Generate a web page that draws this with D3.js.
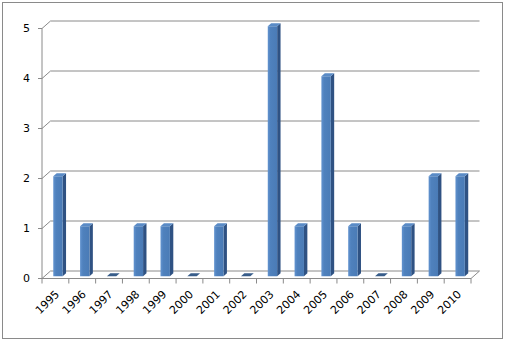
<!DOCTYPE html>
<html lang="en">
  <head>
    <meta charset="UTF-8" />
    <title>Counts per year</title>
    <style>
      body { margin: 0; background: #fff; }
      svg text { font-family: 'DejaVu Sans', Verdana, sans-serif; font-size: 11px; fill: #000; }
    </style>
  </head>
  <body>
    <div id="chart"></div>
    <script src="https://d3js.org/d3.v7.min.js"></script>
    <script>
      const years = ['1995', '1996', '1997', '1998', '1999', '2000', '2001', '2002',
        '2003', '2004', '2005', '2006', '2007', '2008', '2009', '2010'];
      const counts = [2, 1, 0, 1, 1, 0, 1, 0, 5, 1, 4, 1, 0, 1, 2, 2];
      const yTicks = [0, 1, 2, 3, 4, 5];

      const W = 505, H = 342;
      // depth offset of the 3d box
      const DX = 8.5, DY = -7.5;
      const gridColor = '#8a8a8a';

      const svg = d3.select('#chart').append('svg')
        .attr('width', W).attr('height', H);

      // front face shading
      const grad = svg.append('defs').append('linearGradient').attr('id', 'front');
      grad.append('stop').attr('offset', '0%').attr('stop-color', '#6293cf');
      grad.append('stop').attr('offset', '30%').attr('stop-color', '#4f81bd');
      grad.append('stop').attr('offset', '100%').attr('stop-color', '#4a7bb6');

      // outer frame
      svg.append('rect')
        .attr('x', 2.5).attr('y', 2.5)
        .attr('width', 500).attr('height', 336)
        .attr('fill', '#fff').attr('stroke', gridColor);

      const x = d3.scaleBand().domain(years).range([42, 471]);
      const y = d3.scaleLinear().domain([0, 5]).range([278.5, 28.5]);
      const x0 = x.range()[0], x1 = x.range()[1];

      // gridlines: diagonal on side + horizontal on back wall
      const grid = svg.append('g').attr('fill', 'none').attr('stroke', gridColor);
      yTicks.forEach((t) => {
        grid.append('path')
          .attr('d', `M${x0},${y(t)}L${x0 + DX},${y(t) + DY}L${x1 + DX},${y(t) + DY}`);
      });
      // floor
      grid.append('path')
        .attr('d', `M${x0},${y(0)}L${x1},${y(0)}L${x1 + DX},${y(0) + DY}`);

      // y axis
      const yAxis = svg.append('g');
      yAxis.append('line')
        .attr('x1', x0).attr('x2', x0)
        .attr('y1', y(0)).attr('y2', y(5))
        .attr('stroke', gridColor);
      yAxis.selectAll('.tick').data(yTicks).enter().append('line')
        .attr('x1', x0 - 4).attr('x2', x0)
        .attr('y1', (d) => y(d)).attr('y2', (d) => y(d))
        .attr('stroke', gridColor);
      yAxis.selectAll('text').data(yTicks).enter().append('text')
        .attr('x', 30).attr('y', (d) => y(d))
        .attr('dy', '0.36em')
        .attr('text-anchor', 'end')
        .text((d) => d);

      // x axis ticks at category boundaries
      const xAxis = svg.append('g');
      const bounds = years.map((c) => x(c)).concat([x1]);
      xAxis.selectAll('line').data(bounds).enter().append('line')
        .attr('x1', (d) => d).attr('x2', (d) => d)
        .attr('y1', y(0)).attr('y2', y(0) + 5)
        .attr('stroke', gridColor);
      xAxis.selectAll('text').data(years).enter().append('text')
        .attr('text-anchor', 'end')
        .attr('transform', (d) => `translate(${x(d) + x.bandwidth() / 2 - 1},${y(0) + 11}) rotate(-45)`)
        .attr('dy', '0.7em')
        .text((d) => d);

      // bars, sitting from depth 0.3 to 0.7
      const t0 = 0.3, t1 = 0.7;
      const bw = x.bandwidth() * 0.35;
      const bars = svg.selectAll('.bar')
        .data(years.map((c, i) => ({ c, v: counts[i] })))
        .enter().append('g').attr('class', 'bar');

      const fx = (d) => x(d.c) + (x.bandwidth() - bw) / 2 + t0 * DX;
      const fb = () => y(0) + t0 * DY;
      const ft = (d) => y(d.v) + t0 * DY;
      const ddx = (t1 - t0) * DX, ddy = (t1 - t0) * DY;

      bars.filter((d) => d.v > 0).append('path')
        .attr('fill', '#2f5283')
        .attr('d', (d) => `M${fx(d) + bw},${ft(d)}L${fx(d) + bw + ddx},${ft(d) + ddy}` +
          `L${fx(d) + bw + ddx},${fb() + ddy}L${fx(d) + bw},${fb()}Z`);
      bars.filter((d) => d.v > 0).append('rect')
        .attr('fill', 'url(#front)')
        .attr('x', fx).attr('y', ft)
        .attr('width', bw).attr('height', (d) => fb() - ft(d));
      bars.append('path')
        .attr('fill', (d) => (d.v > 0 ? '#5a8bc6' : '#385d8a'))
        .attr('d', (d) => `M${fx(d)},${ft(d)}L${fx(d) + bw},${ft(d)}` +
          `L${fx(d) + bw + ddx},${ft(d) + ddy}L${fx(d) + ddx},${ft(d) + ddy}Z`);
    </script>
  </body>
</html>
